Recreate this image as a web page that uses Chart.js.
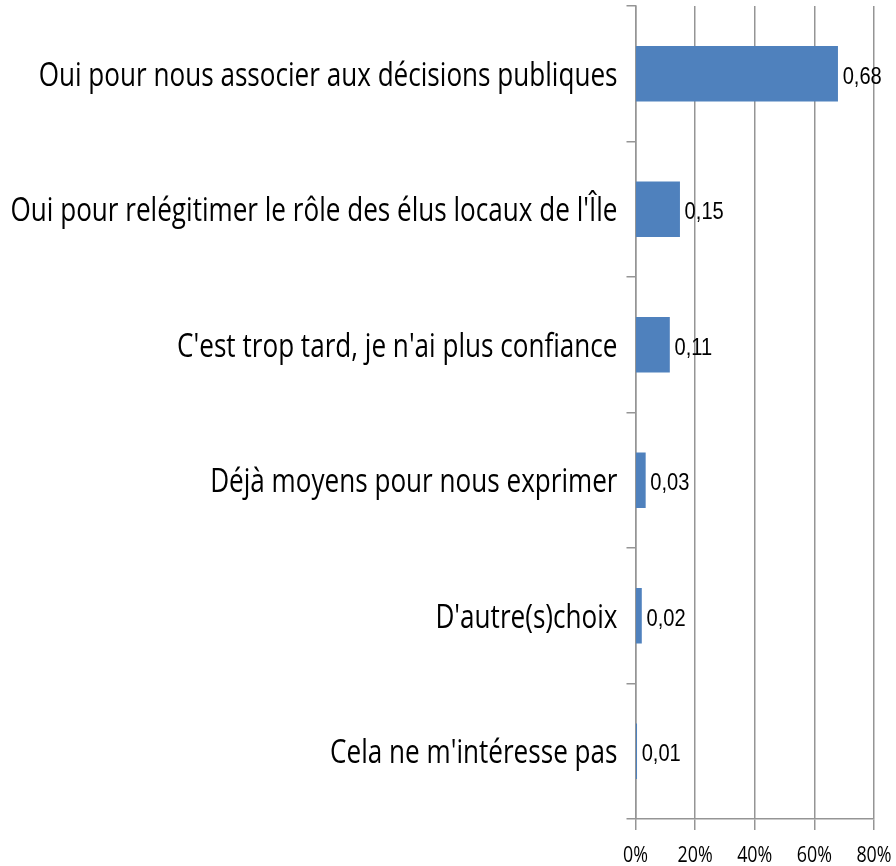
<!DOCTYPE html>
<html>
<head>
<meta charset="utf-8">
<script src="https://cdn.jsdelivr.net/npm/chart.js@4/dist/chart.umd.min.js"></script>
<style>
  html, body { margin: 0; padding: 0; background: #fff; }
  #wrap { width: 896px; height: 866px; }
</style>
</head>
<body>
<div id="wrap"><canvas id="chart"></canvas></div>
<script>
const categories = [
  "Oui pour nous associer aux décisions publiques",
  "Oui pour relégitimer le rôle des élus locaux de l'Île",
  "C'est trop tard, je n'ai plus confiance",
  "Déjà moyens pour nous exprimer",
  "D'autre(s)choix",
  "Cela ne m'intéresse pas"
];
const shares = [0.678, 0.148, 0.114, 0.033, 0.02, 0.004];
const shareLabels = ["0,68", "0,15", "0,11", "0,03", "0,02", "0,01"];
const xTicks = [0, 0.2, 0.4, 0.6, 0.8];

const GRID = "#959595";

// texte "étroit" : on compresse horizontalement
function squeezed(ctx, text, x, y, align, sx) {
  ctx.save();
  ctx.translate(x, y);
  ctx.scale(sx, 1);
  ctx.textAlign = align;
  ctx.textBaseline = "alphabetic";
  ctx.fillText(text, 0, 0);
  ctx.restore();
}

const textLayer = {
  id: "textLayer",
  afterDraw(chart) {
    const ctx = chart.ctx;
    const yScale = chart.scales.y;
    const xScale = chart.scales.x;
    ctx.save();
    ctx.fillStyle = "#000";

    // libellés des catégories
    ctx.font = "32px 'Open Sans'";
    const longest = Math.max(...categories.map(c => ctx.measureText(c).width));
    const sx = 607 / longest;
    categories.forEach((c, i) => {
      squeezed(ctx, c, yScale.right - 18, yScale.getPixelForValue(i) + 12, "right", sx);
    });

    // valeurs à droite des barres
    ctx.font = "24.5px 'Liberation Sans'";
    chart.getDatasetMeta(0).data.forEach((bar, i) => {
      squeezed(ctx, shareLabels[i], bar.x + 5, bar.y + 10, "left", 0.82);
    });

    // graduations de l'axe x
    ctx.font = "21px 'Open Sans'";
    xTicks.forEach((v) => {
      squeezed(ctx, Math.round(v * 100) + "%", xScale.getPixelForValue(v), 862, "center", 0.85);
    });
    ctx.restore();
  }
};

new Chart(document.getElementById("chart"), {
  type: "bar",
  data: {
    labels: categories,
    datasets: [{ data: shares, backgroundColor: "#4f81bd", barThickness: 55 }]
  },
  options: {
    indexAxis: "y",
    responsive: true,
    maintainAspectRatio: false,
    animation: false,
    layout: { padding: { top: 6, right: 22, bottom: 0, left: 0 } },
    plugins: { legend: { display: false }, tooltip: { enabled: false } },
    scales: {
      x: {
        min: 0,
        max: 0.8,
        afterBuildTicks: (scale) => { scale.ticks = xTicks.map(v => ({ value: v })); },
        afterFit: (scale) => {
          scale.height = 47;
          scale.paddingLeft = 0;
          scale.paddingRight = 0;
        },
        grid: { color: GRID, lineWidth: 1.5, tickLength: 11, drawTicks: true },
        border: { color: GRID, width: 1.5 },
        ticks: { display: false }
      },
      y: {
        afterFit: (scale) => {
          scale.width = 635.5;
          scale.paddingTop = 0;
          scale.paddingBottom = 0;
        },
        grid: { offset: true, drawOnChartArea: false, color: GRID, lineWidth: 1.5, tickLength: 9 },
        border: { color: GRID, width: 1.5 },
        ticks: { display: false }
      }
    }
  },
  plugins: [textLayer]
});
</script>
</body>
</html>
